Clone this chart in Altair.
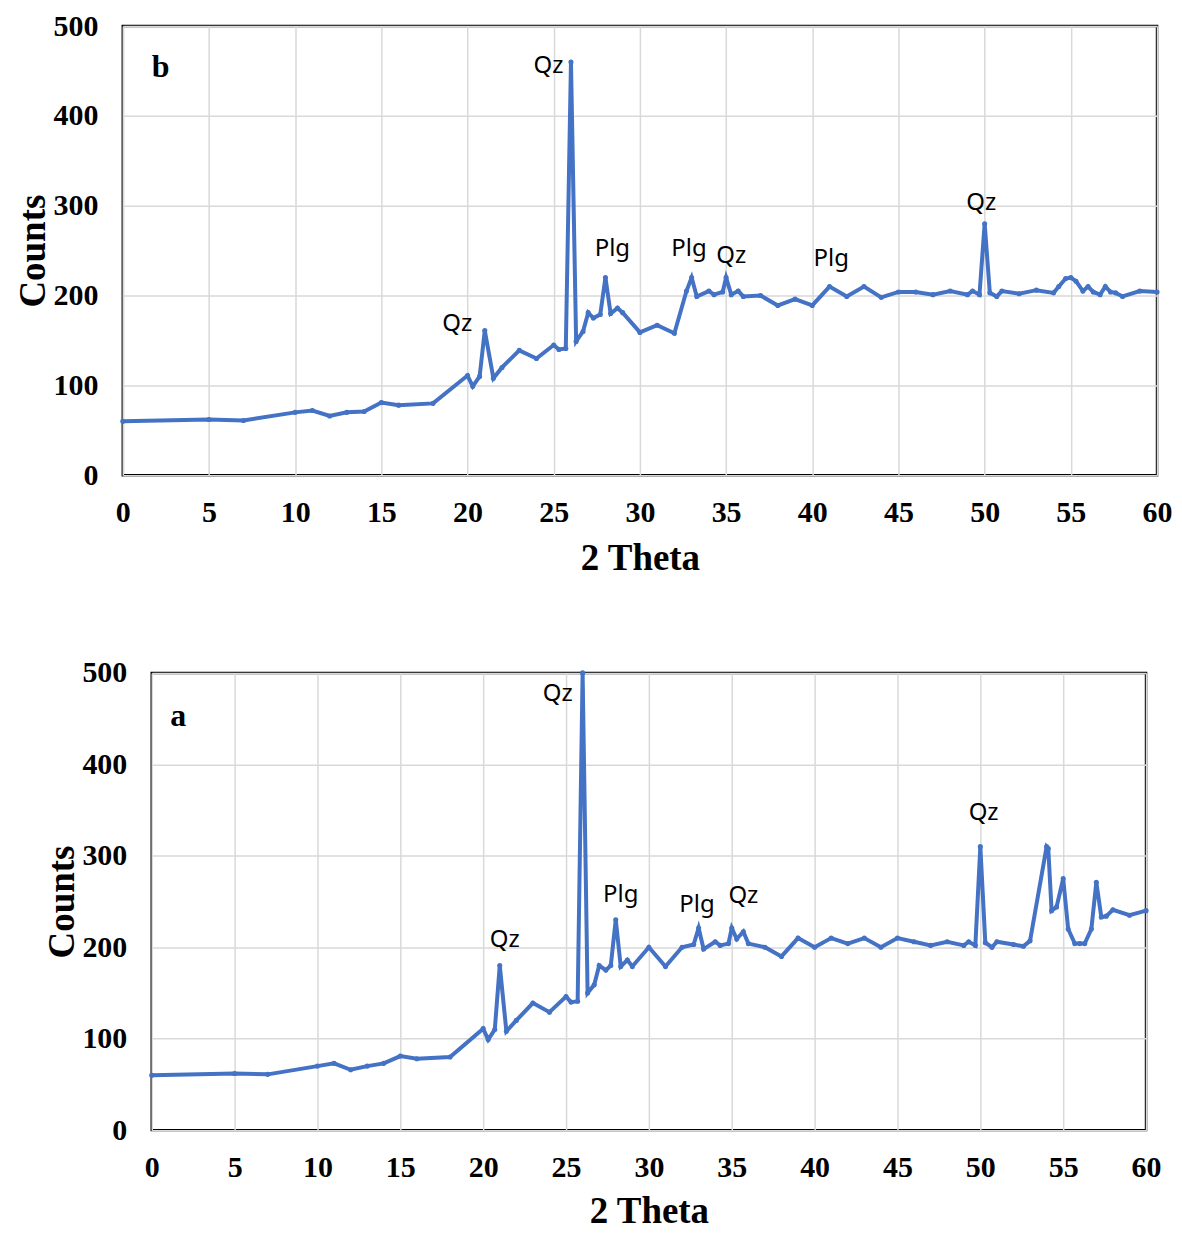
import altair as alt
import pandas as pd

# ---- data: panel b (top) ----
b_theta = [0, 5, 7, 10, 11, 12, 13, 14, 15, 16,
           18, 20, 20.3, 20.7, 21, 21.5, 22, 23, 24, 25,
           25.3, 25.7, 26, 26.3, 26.7, 27, 27.3, 27.7, 28, 28.3,
           28.7, 29, 30, 31, 32, 32.7, 33, 33.3, 34, 34.3,
           34.8, 35, 35.3, 35.7, 36, 37, 38, 39, 40, 41,
           42, 43, 44, 45, 46, 47, 48, 49, 49.3, 49.7,
           50, 50.3, 50.7, 51, 52, 53, 54, 54.3, 54.7, 55,
           55.3, 55.7, 56, 56.3, 56.7, 57, 57.3, 57.6, 58, 59,
           60]
b_counts = [60, 62, 61, 70, 72, 66, 70, 71, 81, 78,
            80, 111, 99, 110, 161, 108, 120, 139, 130, 145,
            140, 141, 460, 149, 160, 181, 175, 179, 220, 180,
            186, 181, 159, 167, 158, 205, 220, 199, 205, 201,
            204, 220, 201, 205, 199, 200, 189, 196, 189, 210,
            199, 210, 198, 204, 204, 201, 205, 201, 205, 201,
            280, 203, 199, 205, 202, 206, 203, 210, 219, 220,
            216, 205, 210, 204, 201, 210, 204, 203, 199, 205,
            204]

# ---- data: panel a (bottom) ----
a_theta = [0, 5, 7, 10, 11, 12, 13, 14, 15, 16,
           18, 20, 20.3, 20.7, 21, 21.4, 22, 23, 24, 25,
           25.3, 25.7, 26, 26.3, 26.7, 27, 27.4, 27.7, 28, 28.3,
           28.7, 29, 30, 31, 32, 32.7, 33, 33.3, 34, 34.3,
           34.8, 35, 35.3, 35.7, 36, 37, 38, 39, 40, 41,
           42, 43, 44, 45, 46, 47, 48, 49, 49.3, 49.7,
           50, 50.3, 50.7, 51, 52, 52.6, 53, 54, 54.1, 54.3,
           54.6, 55, 55.3, 55.7, 56, 56.3, 56.7, 57, 57.3, 57.6,
           58, 59, 60]
a_counts = [60, 62, 61, 70, 73, 66, 70, 73, 81, 78,
            80, 111, 99, 110, 180, 108, 120, 139, 129, 146,
            140, 141, 500, 150, 159, 180, 175, 180, 230, 179,
            186, 179, 200, 179, 200, 203, 221, 198, 206, 202,
            204, 221, 209, 217, 204, 200, 190, 210, 200, 210,
            204, 210, 200, 210, 206, 202, 206, 202, 206, 202,
            310, 205, 200, 206, 203, 201, 207, 310, 308, 240,
            244, 275, 220, 204, 204, 204, 220, 271, 233, 234,
            241, 235, 240]

# ---- peak labels ----
b_lab_text = ["Qz", "Qz", "Plg", "Plg", "Qz", "Plg", "Qz"]
b_lab_x = [19.4, 24.7, 28.4, 32.85, 35.3, 41.1, 49.8]
b_lab_y = [168, 456, 252, 252, 244, 241, 303]

a_lab_text = ["Qz", "Qz", "Plg", "Plg", "Qz", "Qz"]
a_lab_x = [21.3, 24.5, 28.3, 32.9, 35.7, 50.2]
a_lab_y = [208, 477, 257, 246, 256, 347]

panel_names = ["b", "a"]
panel_x = [2.2, 1.6]
panel_y = [454, 453]

x_ticks = list(range(0, 61, 5))
y_ticks = list(range(0, 501, 100))

LINE = "#4472C4"
SERIF = "Liberation Serif"
SANS = "Noto Sans"


def panel(theta, counts, lab_t, lab_x, lab_y, name, nx, ny, w, h, xtitle_pad):
    df = pd.DataFrame({"theta": theta, "counts": counts})
    labs = pd.DataFrame({"t": lab_t, "x": lab_x, "y": lab_y})
    nm = pd.DataFrame({"t": [name], "x": [nx], "y": [ny]})

    xs = alt.Scale(domain=[0, 60], nice=False, zero=False)
    ys = alt.Scale(domain=[0, 500], nice=False)

    common = dict(grid=True, ticks=False, domain=False,
                  labelFont=SERIF, labelFontSize=30, labelFontWeight="bold", labelColor="black",
                  titleFont=SERIF, titleFontSize=37, titleFontWeight="bold", titleColor="black",
                  gridColor="#d9d9d9", gridWidth=1.5)
    xaxis = alt.Axis(values=x_ticks, title="2 Theta", labelPadding=22,
                     titlePadding=xtitle_pad, labelFlush=False, **common)
    yaxis = alt.Axis(values=y_ticks, title="Counts", labelPadding=25, titlePadding=0, **common)

    line = alt.Chart(df).mark_line(
        color=LINE, strokeWidth=4,
        point=alt.OverlayMarkDef(color=LINE, size=26, filled=True)
    ).encode(
        x=alt.X("theta:Q", scale=xs, axis=xaxis),
        y=alt.Y("counts:Q", scale=ys, axis=yaxis),
    )
    txt = alt.Chart(labs).mark_text(font=SANS, fontSize=24, color="black").encode(
        x=alt.X("x:Q", scale=xs), y=alt.Y("y:Q", scale=ys), text="t:N")
    ntx = alt.Chart(nm).mark_text(font=SERIF, fontSize=32, fontWeight="bold", color="black").encode(
        x=alt.X("x:Q", scale=xs), y=alt.Y("y:Q", scale=ys), text="t:N")
    return alt.layer(line, txt, ntx).properties(
        width=w, height=h,
        view=alt.ViewBackground(stroke="black", strokeWidth=2.5))


def spacer(w):
    return alt.Chart(pd.DataFrame({"s": [0]})).mark_point(opacity=0, size=1).encode(
        x=alt.value(0), y=alt.value(0)
    ).properties(width=w, height=10, view=alt.ViewBackground(stroke="transparent"))


top = panel(b_theta, b_counts, b_lab_text, b_lab_x, b_lab_y,
            panel_names[0], panel_x[0], panel_y[0], 1036, 450, 13)
bottom = panel(a_theta, a_counts, a_lab_text, a_lab_x, a_lab_y,
               panel_names[1], panel_x[1], panel_y[1], 996, 458, 12)

chart = alt.vconcat(
    alt.hconcat(spacer(3), top, spacing=0),
    alt.hconcat(spacer(32), bottom, spacing=0),
    spacing=78,
).properties(
    padding={"left": 0, "top": 0, "right": 0, "bottom": 0},
    background="white",
)

chart.save("out.html", embed_options={"renderer": "svg", "actions": False})
